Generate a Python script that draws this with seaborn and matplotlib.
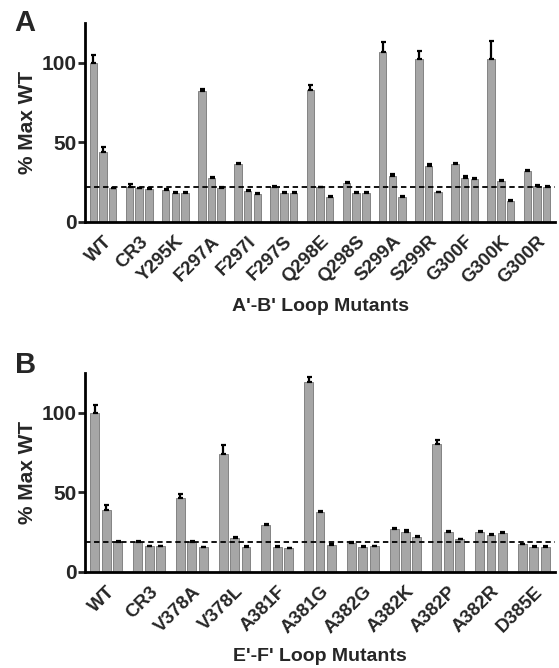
import matplotlib
matplotlib.use("Agg")
import matplotlib.pyplot as plt
import seaborn as sns
import numpy as np
import pandas as pd

# panel A: A'-B' loop
mutants_a = ["WT", "CR3", "Y295K", "F297A", "F297I", "F297S", "Q298E",
             "Q298S", "S299A", "S299R", "G300F", "G300K", "G300R"]
vals_a = [[100, 43.6, 21.0], [21.7, 21.0, 20.6], [20.0, 18.3, 18.3],
          [81.9, 27.8, 21.5], [36.2, 19.4, 17.5], [22.0, 17.9, 18.3],
          [82.7, 21.6, 15.6], [24.2, 18.1, 18.1], [106.3, 29.0, 15.6],
          [101.9, 35.2, 18.5], [36.2, 27.8, 27.0], [102.3, 25.3, 13.0],
          [31.6, 22.7, 21.7]]
errs_a = [[4.6, 3.4, 0.5], [2.3, 0.5, 0.5], [0.5, 0.5, 0.5],
          [1.7, 0.6, 0.5], [0.6, 0.5, 0.5], [0.5, 0.5, 0.5],
          [3.0, 0.5, 0.5], [1.0, 0.5, 0.5], [6.3, 0.8, 0.5],
          [5.1, 0.8, 0.5], [1.0, 0.8, 0.8], [11.4, 0.8, 0.5],
          [0.7, 0.5, 0.5]]
cutoff_a = 22

# panel B: E'-F' loop
mutants_b = ["WT", "CR3", "V378A", "V378L", "A381F", "A381G", "A382G",
             "A382K", "A382P", "A382R", "D385E"]
vals_b = [[100, 38.6, 18.9], [19.0, 16.0, 16.0], [46.5, 18.9, 15.5],
          [73.8, 21.2, 15.5], [29.6, 15.5, 14.7], [119.5, 37.7, 16.8],
          [18.2, 15.5, 16.1], [26.8, 25.0, 22.0], [80.0, 25.2, 20.3],
          [25.0, 23.0, 24.3], [17.2, 15.5, 15.5]]
errs_b = [[5.0, 3.4, 0.3], [0.4, 0.4, 0.4], [2.3, 0.3, 0.3],
          [5.7, 0.6, 0.4], [0.4, 0.4, 0.4], [3.1, 0.6, 0.4],
          [0.4, 0.4, 0.4], [0.5, 1.2, 0.5], [2.8, 0.5, 0.5],
          [0.5, 0.6, 0.6], [0.5, 0.5, 0.5]]
cutoff_b = 19

levels = ["1", "2", "3"]

sns.set_style("white")
plt.rcParams['font.family'] = ['Liberation Sans', 'DejaVu Sans']
plt.rcParams['font.weight'] = 'bold'


def draw_panel(ax, mutants, vals, errs, cutoff, xlabel):
    df = pd.DataFrame([(m, lv, v) for m, row in zip(mutants, vals)
                       for lv, v in zip(levels, row)],
                      columns=["mutant", "level", "value"])
    sns.barplot(data=df, x="mutant", y="value", hue="level",
                palette=["#a6a6a6"] * 3, width=0.8, gap=0.22,
                edgecolor="#777777", linewidth=0.6, errorbar=None,
                legend=False, ax=ax)
    errs = np.array(errs)
    bars = list(ax.containers)
    for i, cont in enumerate(bars):
        xs = [p.get_x() + p.get_width() / 2 for p in cont]
        hs = [p.get_height() for p in cont]
        ax.errorbar(xs, hs, yerr=[np.zeros(len(xs)), errs[:, i]], fmt="none",
                    ecolor="black", elinewidth=1.6, capsize=1.8, capthick=1.6)
    ax.axhline(cutoff, color="black", ls=(0, (3, 2)), lw=1.3, zorder=5)
    ax.set_xlim(-0.5, len(mutants) - 0.5)
    ax.set_ylim(0, 125)
    ax.set_yticks([0, 50, 100])
    ax.set_ylabel("% Max WT", fontsize=15, fontweight="bold", labelpad=3)
    ax.set_xlabel(xlabel, fontsize=14, fontweight="bold", labelpad=8)
    sns.despine(ax=ax)
    for s in ["left", "bottom"]:
        ax.spines[s].set_linewidth(2)
        ax.spines[s].set_color("black")
    ax.tick_params(axis="y", length=5, width=2, labelsize=15, pad=1, left=True)
    ax.tick_params(axis="x", length=0, labelsize=13.5, pad=8)
    plt.setp(ax.get_xticklabels(), rotation=45, ha="right",
             rotation_mode="anchor", fontweight="bold")
    plt.setp(ax.get_yticklabels(), fontweight="bold")


fig = plt.figure(figsize=(5.59, 6.68), dpi=100)
ax_a = fig.add_axes([0.152, 0.668, 0.841, 0.298])
ax_b = fig.add_axes([0.152, 0.144, 0.841, 0.298])

draw_panel(ax_a, mutants_a, vals_a, errs_a, cutoff_a, "A'-B' Loop Mutants")
draw_panel(ax_b, mutants_b, vals_b, errs_b, cutoff_b, "E'-F' Loop Mutants")

fig.text(0.026, 0.986, "A", fontsize=21, fontweight="bold", va="top")
fig.text(0.026, 0.475, "B", fontsize=21, fontweight="bold", va="top")

fig.savefig("out.png", dpi=100)
